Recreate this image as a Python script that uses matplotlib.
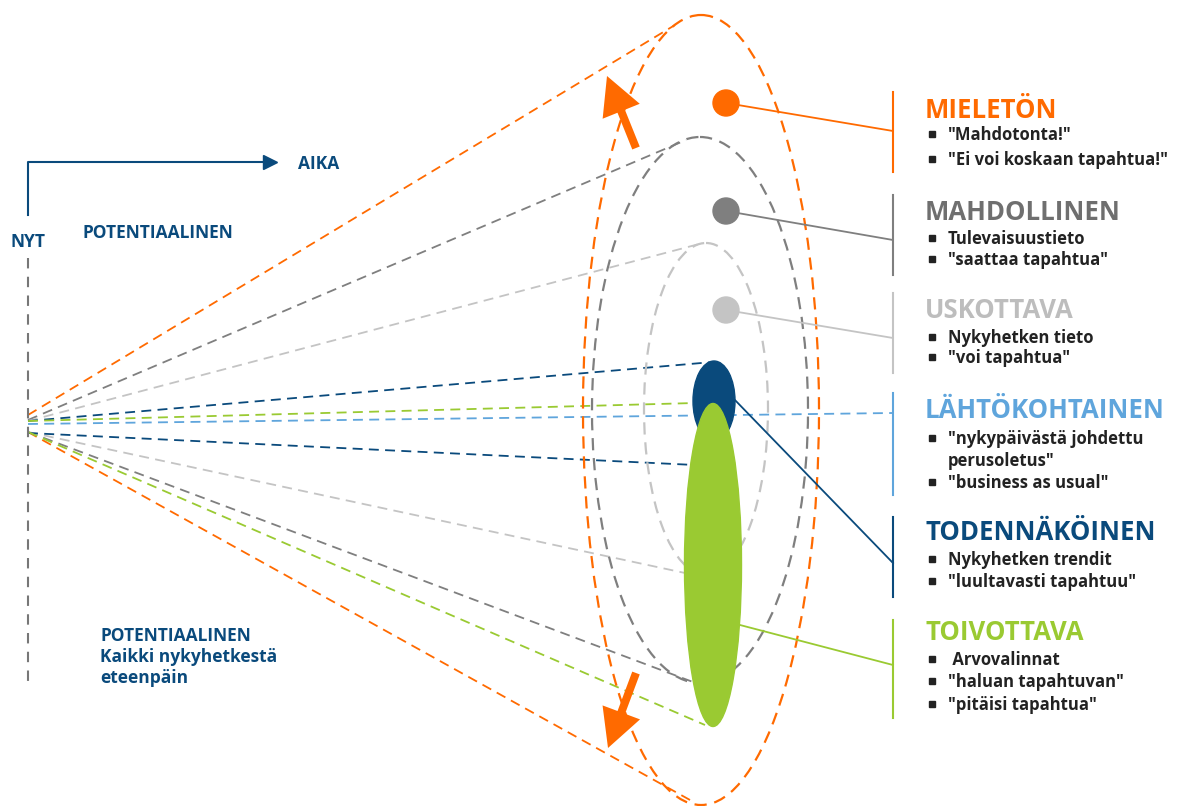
import matplotlib.pyplot as plt
from matplotlib.patches import Ellipse, Circle, FancyArrow

plt.rcParams['font.family'] = ['Open Sans', 'DejaVu Sans']

# colours of the six futures
ORANGE = '#ff6a00'
GRAY = '#7f7f7f'
LGRAY = '#c4c4c4'
LBLUE = '#5fa5dc'
DBLUE = '#0a4a7c'
GREEN = '#9aca32'
TXT = '#222222'

# legend content
titles = ['MIELETÖN', 'MAHDOLLINEN', 'USKOTTAVA', 'LÄHTÖKOHTAINEN',
          'TODENNÄKÖINEN', 'TOIVOTTAVA']
title_colors = [ORANGE, '#6f6f6f', '#bdbdbd', LBLUE, DBLUE, GREEN]
bullets = [
    ['″Mahdotonta!″', '″Ei voi koskaan tapahtua!″'],
    ['Tulevaisuustieto', '"saattaa tapahtua"'],
    ['Nykyhetken tieto', '"voi tapahtua"'],
    ['″nykypäivästä johdettu', 'perusoletus″', '″business as usual″'],
    ['Nykyhetken trendit', '″luultavasti tapahtuu″'],
    [' Arvovalinnat', '″haluan tapahtuvan″', '″pitäisi tapahtua″'],
]
has_mark = [[1, 1], [1, 1], [1, 1], [1, 0, 1], [1, 1], [1, 1, 1]]
title_y = [108, 210, 308, 408, 530, 630]
bullet_y = [[133, 158], [237, 258], [336, 356], [437, 459, 481], [558, 580],
            [658, 680, 703]]
bar_y = [(92, 172), (195, 275), (293, 373), (393, 495), (517, 597), (620, 718)]

# dashed ellipses (centre x, centre y, width, height, colour)
cones = [(701, 410, 236, 790, ORANGE), (700, 410, 216, 546, GRAY),
         (706, 409, 124, 332, LGRAY)]
# cone rays: (start y, end x, end y, colour)
rays = [(415, 675, 25, ORANGE), (432, 690, 800, ORANGE),
        (420, 686, 140, GRAY), (432, 693, 682, GRAY),
        (421, 703, 243, LGRAY), (432, 685, 573, LGRAY),
        (421, 713, 362, DBLUE), (433, 695, 465, DBLUE),
        (421, 695, 403, GREEN), (432, 705, 725, GREEN),
        (424, 893, 413, LBLUE)]
# dots and connectors (dot x, dot y, line end y, colour)
dots = [(726, 103, 131, ORANGE), (726, 211, 240, GRAY), (726, 310, 338, LGRAY)]

fig = plt.figure(figsize=(11.77, 8.06), dpi=100)
ax = fig.add_axes([0, 0, 1, 1])
ax.set_xlim(0, 1177)
ax.set_ylim(806, 0)
ax.axis('off')

dash = (0, (5.5, 3.5))
x0 = 28

for sy, ex, ey, c in rays:
    ax.plot([x0, ex], [sy, ey], color=c, lw=1.3, ls=dash, zorder=2)

for cx, cy, w, h, c in cones:
    ax.add_patch(Ellipse((cx, cy), w, h, fill=False, ec=c, lw=1.6,
                         ls=dash, zorder=3))

# filled ellipses
ax.add_patch(Ellipse((714, 401), 42, 80, color=DBLUE, zorder=4))
ax.add_patch(Ellipse((713, 565), 57, 323, color=GREEN, zorder=5))

for dx, dy, ly, c in dots:
    ax.add_patch(Circle((dx, dy), 13, color=c, zorder=6))
    ax.plot([dx, 893], [dy, ly], color=c, lw=1.3, zorder=6)

ax.plot([733, 893], [398, 563], color=DBLUE, lw=1.3, zorder=6)
ax.plot([740, 893], [625, 665], color=GREEN, lw=1.3, zorder=6)

# orange arrows
ax.add_patch(FancyArrow(636, 148, -29, -72, width=8, head_width=40,
                        head_length=38, length_includes_head=True,
                        color=ORANGE, lw=0, zorder=7))
ax.add_patch(FancyArrow(636, 673, -28, 75, width=8, head_width=40,
                        head_length=38, length_includes_head=True,
                        color=ORANGE, lw=0, zorder=7))

# vertical bars and legend text
bar_colors = [ORANGE, GRAY, LGRAY, LBLUE, DBLUE, GREEN]
for i, t in enumerate(titles):
    ax.plot([893, 893], bar_y[i], color=bar_colors[i], lw=1.5)
    ax.text(925, title_y[i] + 3, t, color=title_colors[i], fontsize=18.5,
            fontweight='bold', va='center', ha='left')
    for s, by, m in zip(bullets[i], bullet_y[i], has_mark[i]):
        if m:
            ax.plot(932, by + 1, marker='s', ms=5, color=TXT)
        ax.text(948, by + 2, s, color=TXT, fontsize=12, fontweight='bold',
                va='center', ha='left')

# time axis
ax.plot([x0, x0, 268], [215, 162, 162], color=DBLUE, lw=1.5)
ax.plot(270, 162, marker='>', ms=10, color=DBLUE)
ax.text(298, 164, 'AIKA', color=DBLUE, fontsize=12.5, fontweight='bold',
        va='center')
ax.text(x0, 242, 'NYT', color=DBLUE, fontsize=12.5, fontweight='bold',
        va='center', ha='center')
ax.text(82, 233, 'POTENTIAALINEN', color=DBLUE, fontsize=12.5,
        fontweight='bold', va='center')
ax.plot([x0, x0], [258, 686], color='#777777', lw=1.5, ls=(0, (5, 4)))
for s, ty in zip(['POTENTIAALINEN', 'Kaikki nykyhetkestä', 'eteenpäin'],
                 [636, 657, 678]):
    ax.text(100, ty, s, color=DBLUE, fontsize=12.5, fontweight='bold',
            va='center')

fig.savefig('out.png', dpi=100)
